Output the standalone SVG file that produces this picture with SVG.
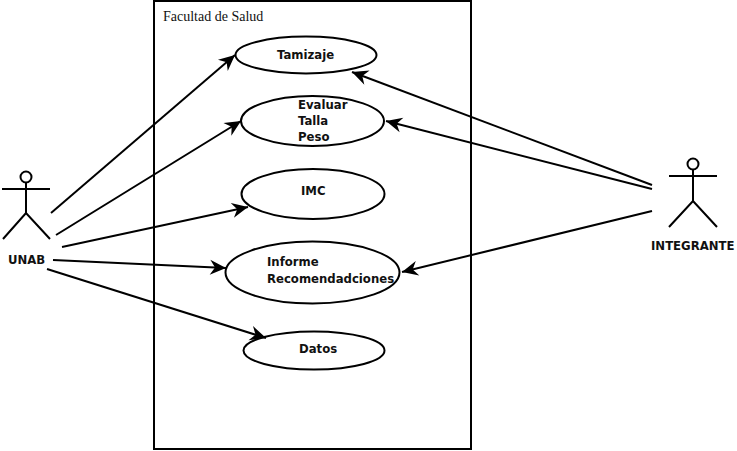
<svg xmlns="http://www.w3.org/2000/svg" width="737" height="451" viewBox="0 0 737 451">
<style>
.s{fill:none;stroke:#000;stroke-width:2}
.e{fill:#fff;stroke:#000;stroke-width:2}
.t{font-family:"DejaVu Sans",Verdana,sans-serif;font-weight:bold;font-size:11.700px;fill:#111}
.c{stroke:#000;stroke-width:2;fill:none;marker-end:url(#a)}
</style>
<defs>
<marker id="a" markerUnits="userSpaceOnUse" markerWidth="20" markerHeight="18" refX="17" refY="9" orient="auto">
<path d="M1 1.500L17 9L1 16.500L6 9Z" fill="#000"/>
</marker>
</defs>
<rect width="737" height="451" fill="#fff"/>
<g id="boundary">
<rect class="s" x="154" y="1" width="317" height="448"/>
<text x="163" y="21" font-family="'Liberation Serif','Times New Roman',serif" font-size="14" fill="#111">Facultad de Salud</text>
</g>
<g id="tamizaje"><ellipse class="e" cx="306" cy="55" rx="70.500" ry="18.500"/><text class="t" x="277" y="59">Tamizaje</text></g>
<g id="evaluar"><ellipse class="e" cx="312.500" cy="121" rx="71.500" ry="25"/><text class="t" x="298" y="109">Evaluar</text><text class="t" x="298" y="125">Talla</text><text class="t" x="298" y="141">Peso</text></g>
<g id="imc"><ellipse class="e" cx="313" cy="194" rx="71.500" ry="25"/><text class="t" x="301" y="195">IMC</text></g>
<g id="informe"><ellipse class="e" cx="312.500" cy="272.500" rx="87" ry="31"/><text class="t" x="267" y="266">Informe</text><text class="t" x="267" y="283">Recomendadciones</text></g>
<g id="datos"><ellipse class="e" cx="314" cy="350.500" rx="70.500" ry="19"/><text class="t" x="299" y="353">Datos</text></g>
<g id="unab"><circle class="s" cx="26" cy="177" r="5.500"/><path class="s" d="M26 183V213M2 189H50M3 239L26 213L50 239"/><text class="t" x="8" y="264">UNAB</text></g>
<g id="integrante"><circle class="s" cx="693" cy="164" r="5.500"/><path class="s" d="M693 170V201M669 176H717M669 227L693 201L717 227"/><text class="t" x="651" y="250">INTEGRANTE</text></g>
<g id="connectors">
<line class="c" x1="51" y1="213" x2="235" y2="55"/>
<line class="c" x1="56" y1="235" x2="241" y2="121"/>
<line class="c" x1="62" y1="247" x2="248" y2="207"/>
<line class="c" x1="53" y1="260" x2="226" y2="268"/>
<line class="c" x1="47" y1="269" x2="266" y2="338"/>
<line class="c" x1="652" y1="185" x2="352" y2="72"/>
<line class="c" x1="652" y1="189" x2="386" y2="121"/>
<line class="c" x1="652" y1="211" x2="402" y2="272"/>
</g>
</svg>
